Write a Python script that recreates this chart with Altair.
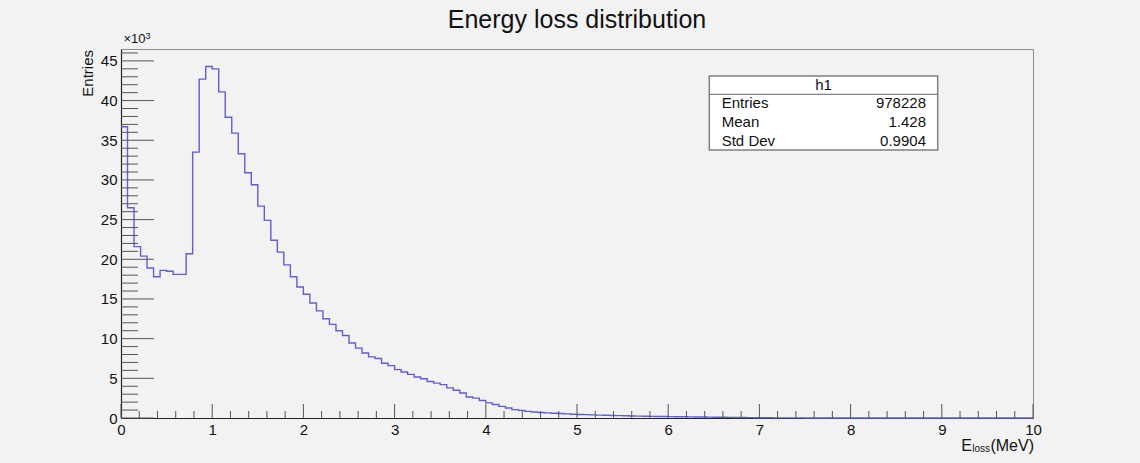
import altair as alt
import pandas as pd

# ---------------- data ----------------
N_BINS = 140
X_MIN, X_MAX = 0.0, 10.0
# bin contents in units of 10^3 entries
counts_k = [
    36.7, 26.5, 21.6, 20.4, 18.9, 17.8, 18.6, 18.5, 18.1, 18.1,
    20.7, 33.5, 42.7, 44.3, 44.0, 41.1, 37.9, 35.9, 33.3, 30.9,
    29.4, 26.7, 24.9, 22.4, 20.9, 19.3, 17.8, 16.5, 15.6, 14.5,
    13.5, 12.5, 11.8, 11.0, 10.4, 9.45, 8.8, 8.2, 7.7, 7.5,
    6.9, 6.6, 6.1, 5.8, 5.5, 5.16, 4.95, 4.6, 4.4, 4.2,
    3.8, 3.5, 3.15, 2.65, 2.5, 2.2, 1.9, 1.7, 1.46, 1.26,
    1.05, 0.96, 0.83, 0.75, 0.70, 0.65, 0.60, 0.56, 0.52, 0.48,
    0.45, 0.42, 0.39, 0.36, 0.34, 0.32, 0.30, 0.28, 0.26, 0.24,
    0.22, 0.21, 0.19, 0.18, 0.17, 0.16, 0.15, 0.14, 0.13, 0.12,
    0.11, 0.10, 0.09, 0.08, 0.07, 0.06, 0.05, 0.04, 0.03, 0.03,
    0.02, 0.02, 0.01, 0.01, 0.01, 0.0, 0.0, 0.0, 0.0, 0.0,
    0.0, 0.0, 0.0, 0.0, 0.0, 0.0, 0.0, 0.0, 0.0, 0.0,
    0.0, 0.0, 0.0, 0.0, 0.0, 0.0, 0.0, 0.0, 0.0, 0.0,
    0.0, 0.0, 0.0, 0.0, 0.0, 0.0, 0.0, 0.0, 0.0, 0.0,
]
x_tick_labels = [0, 1, 2, 3, 4, 5, 6, 7, 8, 9, 10]
x_minor_ticks = [0.2, 0.4, 0.6, 0.8, 1.2, 1.4, 1.6, 1.8, 2.2, 2.4, 2.6, 2.8,
                 3.2, 3.4, 3.6, 3.8, 4.2, 4.4, 4.6, 4.8, 5.2, 5.4, 5.6, 5.8,
                 6.2, 6.4, 6.6, 6.8, 7.2, 7.4, 7.6, 7.8, 8.2, 8.4, 8.6, 8.8,
                 9.2, 9.4, 9.6, 9.8]
y_tick_labels = [0, 5, 10, 15, 20, 25, 30, 35, 40, 45]
y_minor_ticks = [1, 2, 3, 4, 6, 7, 8, 9, 11, 12, 13, 14, 16, 17, 18, 19,
                 21, 22, 23, 24, 26, 27, 28, 29, 31, 32, 33, 34, 36, 37, 38, 39,
                 41, 42, 43, 44, 46]
Y_MAX = 46.5

title_text = "Energy loss distribution"
stats_name = "h1"
stats_labels = ["Entries", "Mean", "Std Dev"]
stats_values = ["978228", "1.428", "0.9904"]

# ---------------- layout / style ----------------
W, H = 912, 369
FONT = "Liberation Sans"
LINE_COLOR = "#5f5dd8"
BG = "#f2f2f2"
TXT = "#111"

xsc = alt.Scale(domain=[X_MIN, X_MAX], nice=False, zero=False)
ysc = alt.Scale(domain=[0, Y_MAX], nice=False)
xaxis = alt.Axis(
    values=x_tick_labels, title=None, ticks=False, tickSize=0, grid=False,
    labelFont=FONT, labelFontSize=15, labelColor=TXT, labelPadding=4,
    domainColor="#222", domainWidth=1.2, labelFlush=False)
yaxis = alt.Axis(
    values=y_tick_labels, title=None, ticks=False, tickSize=0, grid=False,
    labelFont=FONT, labelFontSize=15, labelColor=TXT, labelPadding=4,
    domainColor="#222", domainWidth=1.2, labelFlush=False)

edges = [X_MIN + i * (X_MAX - X_MIN) / N_BINS for i in range(N_BINS + 1)]
hist_df = pd.DataFrame({"x": edges, "y": counts_k + [counts_k[-1]]})

one = alt.Data(values=[{"a": 1}])

hist = alt.Chart(hist_df).mark_line(
    interpolate="step-after", color=LINE_COLOR, strokeWidth=1.4
).encode(
    x=alt.X("x:Q", scale=xsc, axis=xaxis),
    y=alt.Y("y:Q", scale=ysc, axis=yaxis),
)

TICK_COLOR = "#555"
xmaj = alt.Chart(pd.DataFrame({"x": x_tick_labels})).mark_rule(
    color=TICK_COLOR, strokeWidth=1).encode(
    x=alt.X("x:Q", scale=xsc, axis=xaxis), y=alt.value(H), y2=alt.value(H - 14))
xmin = alt.Chart(pd.DataFrame({"x": x_minor_ticks})).mark_rule(
    color=TICK_COLOR, strokeWidth=1).encode(
    x=alt.X("x:Q", scale=xsc, axis=xaxis), y=alt.value(H), y2=alt.value(H - 7))
ymaj = alt.Chart(pd.DataFrame({"y": y_tick_labels})).mark_rule(
    color=TICK_COLOR, strokeWidth=1).encode(
    y=alt.Y("y:Q", scale=ysc, axis=yaxis), x=alt.value(0), x2=alt.value(33))
ymin = alt.Chart(pd.DataFrame({"y": y_minor_ticks})).mark_rule(
    color=TICK_COLOR, strokeWidth=1).encode(
    y=alt.Y("y:Q", scale=ysc, axis=yaxis), x=alt.value(0), x2=alt.value(17))

# title
title = alt.Chart(one).mark_text(
    text=title_text, font=FONT, fontSize=25, color=TXT,
    align="center", baseline="alphabetic").encode(
    x=alt.value(W / 2), y=alt.value(-20.7))

# y axis title and exponent
ytitle = alt.Chart(one).mark_text(
    text="Entries", font=FONT, fontSize=15, color=TXT, angle=270,
    align="right", baseline="alphabetic").encode(
    x=alt.value(-27.7), y=alt.value(1))
exp_base = alt.Chart(one).mark_text(
    text="×10", font=FONT, fontSize=13, color=TXT,
    align="left", baseline="alphabetic").encode(
    x=alt.value(2.5), y=alt.value(-6.3))
exp_sup = alt.Chart(one).mark_text(
    text="3", font=FONT, fontSize=9, color=TXT,
    align="left", baseline="alphabetic").encode(
    x=alt.value(24.5), y=alt.value(-10.5))

# x axis title  E_loss(MeV)
xt_e = alt.Chart(one).mark_text(
    text="E", font=FONT, fontSize=16, color=TXT,
    align="right", baseline="alphabetic").encode(
    x=alt.value(851), y=alt.value(401.7))
xt_sub = alt.Chart(one).mark_text(
    text="loss", font=FONT, fontSize=10, color=TXT,
    align="right", baseline="alphabetic").encode(
    x=alt.value(869), y=alt.value(403.3))
xt_unit = alt.Chart(one).mark_text(
    text="(MeV)", font=FONT, fontSize=16, color=TXT,
    align="right", baseline="alphabetic").encode(
    x=alt.value(913), y=alt.value(401.7))

# stats box
BX0, BX1, BY0, BY1, BSEP = 588.3, 816.7, 27, 101, 45.3
box = alt.Chart(one).mark_rect(
    fill="white", stroke="#808080", strokeWidth=1.5).encode(
    x=alt.value(BX0), x2=alt.value(BX1), y=alt.value(BY0), y2=alt.value(BY1))
sep = alt.Chart(one).mark_rule(color="#808080", strokeWidth=1.2).encode(
    x=alt.value(BX0), x2=alt.value(BX1), y=alt.value(BSEP))
stat_layers = [alt.Chart(one).mark_text(
    text=stats_name, font=FONT, fontSize=15, color=TXT,
    align="center", baseline="alphabetic").encode(
    x=alt.value((BX0 + BX1) / 2), y=alt.value(41))]
row_y = [59.3, 78.3, 97]
for i, (lab, val) in enumerate(zip(stats_labels, stats_values)):
    stat_layers.append(alt.Chart(one).mark_text(
        text=lab, font=FONT, fontSize=15, color=TXT,
        align="left", baseline="alphabetic").encode(
        x=alt.value(600.7), y=alt.value(row_y[i])))
    stat_layers.append(alt.Chart(one).mark_text(
        text=val, font=FONT, fontSize=15, color=TXT,
        align="right", baseline="alphabetic").encode(
        x=alt.value(805), y=alt.value(row_y[i])))

chart = alt.layer(
    hist, xmaj, xmin, ymaj, ymin, title, ytitle, exp_base, exp_sup,
    xt_e, xt_sub, xt_unit, box, sep, *stat_layers
).properties(
    width=W, height=H,
    padding={"left": 121, "top": 49, "right": 1140 - 121 - W, "bottom": 463 - 49 - H},
    autosize=alt.AutoSizeParams(type="none"),
    background=BG,
).configure_view(stroke="#8c8c8c", strokeWidth=1)

chart.save("out.html", embed_options={"renderer": "svg", "actions": False})
